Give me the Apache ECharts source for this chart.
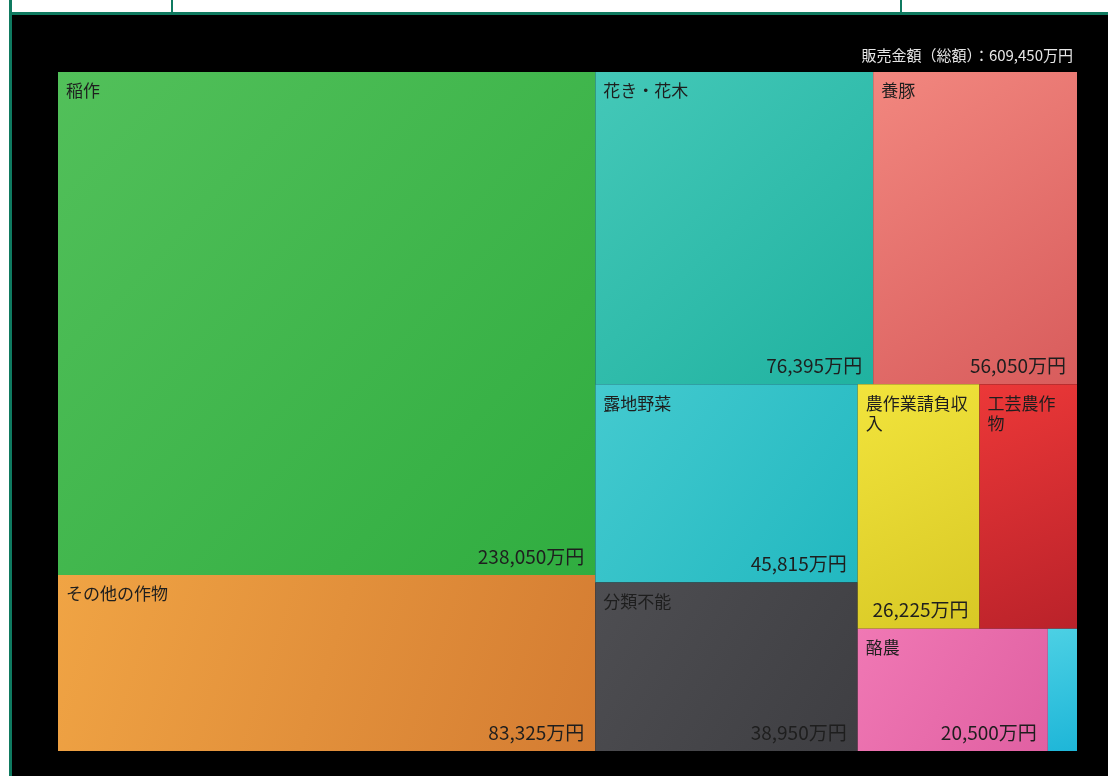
<!DOCTYPE html>
<html><head><meta charset="utf-8">
<script src="https://cdn.jsdelivr.net/npm/echarts@6/dist/echarts.min.js"></script>
<style>html,body{margin:0;padding:0;background:#fff;}#c{width:1108px;height:776px;}</style>
</head><body><div id="c"></div>
<script>
const categories = ['稲作','その他の作物','花き・花木','養豚','露地野菜','分類不能','農作業請負収入','工芸農作物','酪農','果樹類'];
const values = [238050, 83325, 76395, 56050, 45815, 38950, 26225, 21000, 20500, 3140];
const colorsLight = ['#52c05a','#f0a444','#44c8b8','#f2877f','#44cacf','#4e4e52','#f2e43c','#ec3838','#f078b4','#4cd0e4'];
const colorsDark  = ['#30ad40','#d47c32','#20b2a0','#d85c5c','#22b8c0','#3e3e42','#d8c825','#ba222a','#e060a2','#1eb6d8'];
const totalLabel = '販売金額（総額）：609,450万円';
const hiddenNameLabels = ['果樹類'];
const hiddenValueLabels = ['果樹類','工芸農作物'];

const fmt = v => v.toLocaleString('en-US') + '万円';
const grad = i => ({type:'linear', x:0, y:0, x2:1, y2:1, colorStops:[{offset:0,color:colorsLight[i]},{offset:1,color:colorsDark[i]}]});

const nameData = categories.map((n,i)=>({
  name:n, value:values[i],
  itemStyle:{color:grad(i)},
  label: hiddenNameLabels.includes(n) ? {show:false} : undefined
}));
const valueData = categories.map((n,i)=>({
  name:n, value:values[i],
  itemStyle:{color:'rgba(0,0,0,0)'},
  label: hiddenValueLabels.includes(n) ? {show:false} : undefined
}));

const common = {
  type:'treemap', left:58, top:72, width:1019, height:679,
  roam:false, nodeClick:false, breadcrumb:{show:false},
  animation:false,
  itemStyle:{borderWidth:0, gapWidth:0, borderColor:'rgba(0,0,0,0)'},
  emphasis:{disabled:true}
};

const chart = echarts.init(document.getElementById('c'), null, {renderer:'canvas'});
chart.setOption({
  backgroundColor:'#fff',
  graphic:[
    {type:'rect', shape:{x:11,y:14,width:1097,height:762}, style:{fill:'#000'}, silent:true, z:-10},
    {type:'rect', shape:{x:9,y:0,width:3,height:776}, style:{fill:'#0f7a60'}, silent:true, z:-9},
    {type:'rect', shape:{x:9,y:12,width:1099,height:3}, style:{fill:'#0f7a60'}, silent:true, z:-9},
    {type:'rect', shape:{x:171,y:0,width:2,height:13}, style:{fill:'#0f7a60'}, silent:true, z:-9},
    {type:'rect', shape:{x:900,y:0,width:2,height:13}, style:{fill:'#0f7a60'}, silent:true, z:-9}
  ],
  title:{
    text: totalLabel, right:30, top:43,
    textStyle:{color:'#e6e6e6', fontSize:15, fontWeight:'normal', fontFamily:'"Noto Sans CJK JP", "Noto Sans", sans-serif'}
  },
  series:[
    Object.assign({}, common, {
      data:nameData,
      label:{show:true, position:'insideTopLeft', padding:[9,8,8,8], color:'#1e1e1e', fontSize:17,
        fontFamily:'"Noto Sans CJK JP", sans-serif', overflow:'break', lineHeight:20,
        formatter: p => p.name}
    }),
    Object.assign({}, common, {
      data:valueData, silent:true,
      label:{show:true, position:'insideBottomRight', padding:[0,11,9,0], color:'#1e1e1e', fontSize:19,
        fontFamily:'"Noto Sans CJK JP", sans-serif', overflow:'none',
        formatter: p => fmt(p.value)}
    })
  ]
});
</script></body></html>
